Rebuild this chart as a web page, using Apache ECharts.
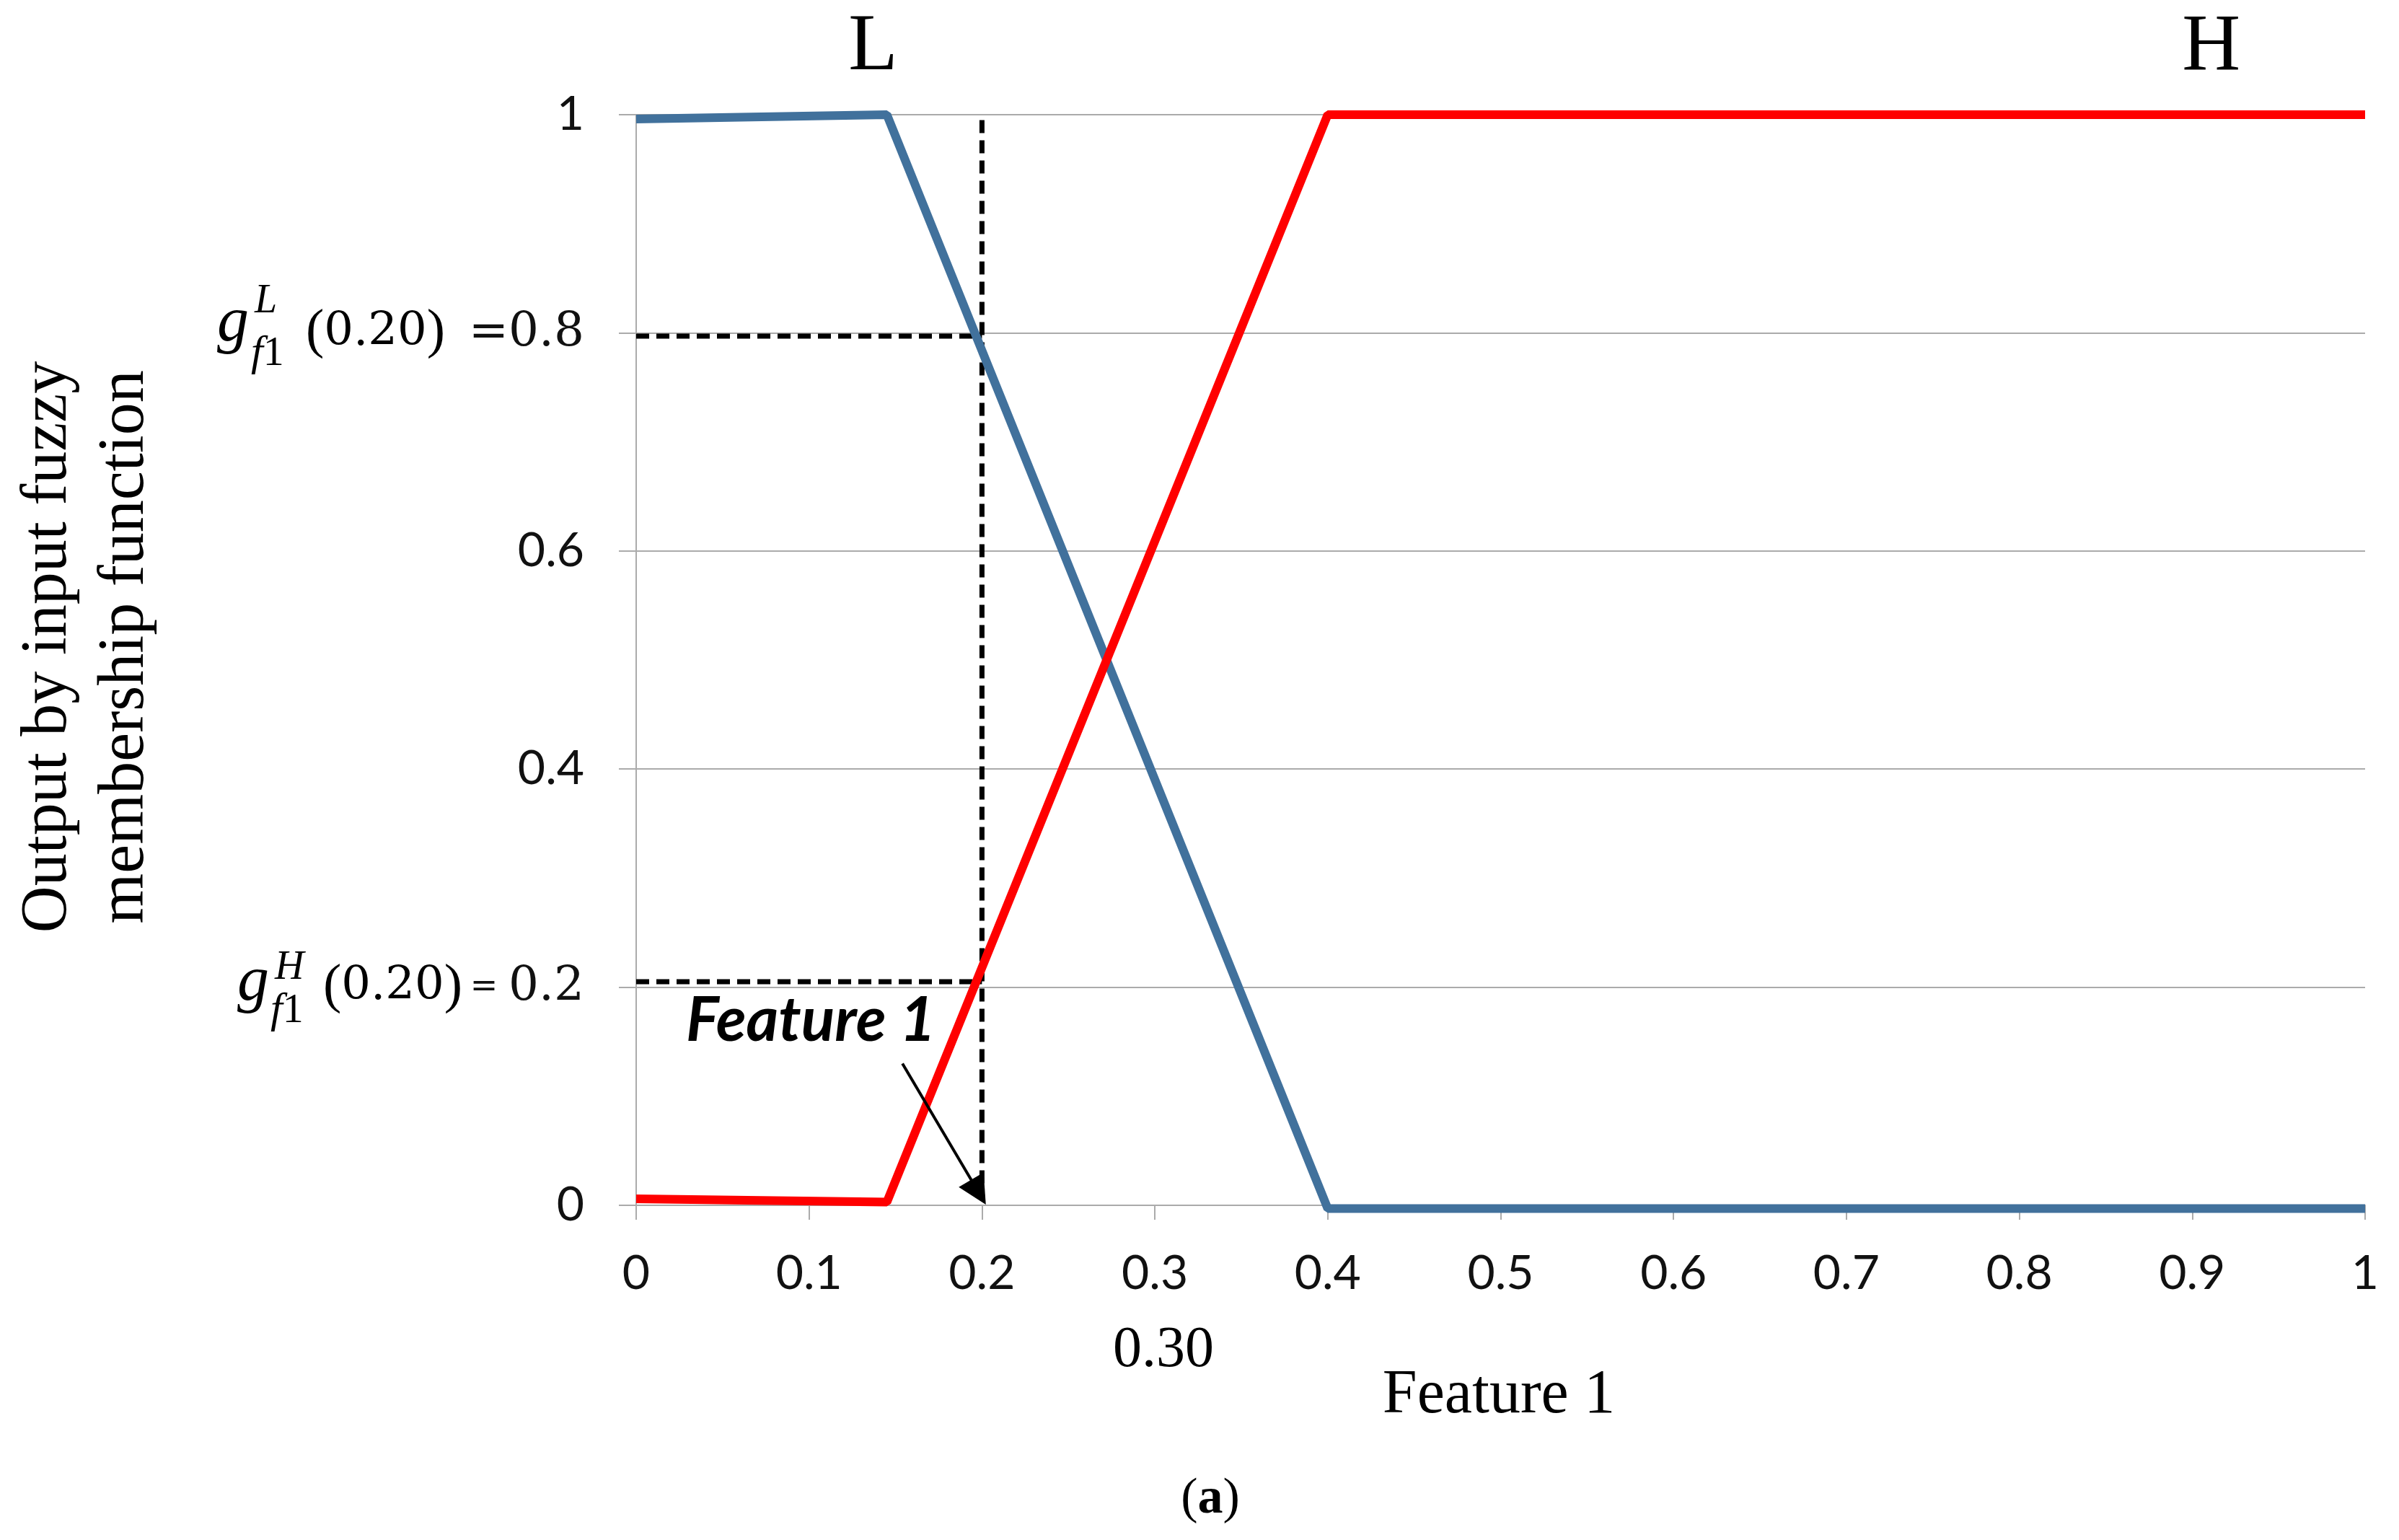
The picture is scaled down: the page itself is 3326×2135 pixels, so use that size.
<!DOCTYPE html>
<html>
<head>
<meta charset="utf-8">
<script src="https://cdn.jsdelivr.net/npm/echarts@6/dist/echarts.min.js"></script>
<style>
  html, body { margin: 0; padding: 0; background: #fff; }
  #chart { width: 3326px; height: 2135px; }
</style>
</head>
<body>
<div id="chart"></div>
<script>
// membership functions
const lowX = [0, 0.145, 0.4, 1];
const lowY = [0.996, 1, -0.003, -0.003];
const highX = [0, 0.145, 0.4, 1];
const highY = [0.006, 0.003, 1, 1];

// dashed read-out guides at feature value 0.2
const guideV = [[0.2, 0.995], [0.2, 0.006]];
const guideLow = [[0, 0.797], [0.2, 0.797]];
const guideHigh = [[0, 0.205], [0.2, 0.205]];
const arrowFrom = [0.154, 0.13];
const arrowTo = [0.198, 0.012];

const yTickText = { '0.8': '{m|=0.8}', '0.2': '{e|= }{m|0.2}' };

const NUM = 'Lato';
const SERIF = '"Liberation Serif", serif';
const MATH = '"DejaVu Serif", serif';
const GRAY = '#ababab';

const chart = echarts.init(document.getElementById('chart'));

const pairs = (xs, ys) => xs.map((x, i) => [x, ys[i]]);
const guide = (data) => ({
  type: 'line', data, symbol: 'none', silent: true, clip: false, z: 2,
  lineStyle: { color: '#000', width: 7, type: [18, 10] }
});

chart.setOption({
  animation: false,
  backgroundColor: '#fff',
  grid: { left: 882, right: 47, top: 159, bottom: 464, outerBoundsMode: 'none' },
  xAxis: {
    type: 'value', min: 0, max: 1, interval: 0.1,
    axisLine: { show: true, lineStyle: { color: GRAY, width: 2 } },
    axisTick: { show: true, length: 20, lineStyle: { color: GRAY, width: 2 } },
    splitLine: { show: false },
    axisLabel: {
      margin: 62, color: '#111', fontFamily: NUM, fontSize: 66,
      formatter: v => String(parseFloat(v.toFixed(1)))
    }
  },
  yAxis: {
    type: 'value', min: 0, max: 1, interval: 0.2,
    axisLine: { show: true, lineStyle: { color: GRAY, width: 2 } },
    axisTick: { show: true, length: 24, lineStyle: { color: GRAY, width: 2 } },
    splitLine: { show: true, lineStyle: { color: GRAY, width: 2 } },
    axisLabel: {
      margin: 72, color: '#111', fontFamily: NUM, fontSize: 66,
      formatter: v => {
        const k = String(parseFloat(v.toFixed(1)));
        return yTickText[k] || k;
      },
      rich: {
        m: { fontFamily: MATH, fontSize: 66, color: '#111' },
        e: { fontFamily: MATH, fontSize: 46, color: '#111' }
      }
    }
  },
  series: [
    guide(guideV),
    guide(guideLow),
    guide(guideHigh),
    {
      name: 'L', type: 'line', data: pairs(lowX, lowY), symbol: 'none', clip: false, z: 3,
      lineStyle: { color: '#41719C', width: 12 }
    },
    {
      name: 'H', type: 'line', data: pairs(highX, highY), symbol: 'none', clip: false, z: 4,
      lineStyle: { color: '#FF0000', width: 12 }
    },
    {
      type: 'lines', coordinateSystem: 'cartesian2d', z: 5, silent: true,
      symbol: ['none', 'triangle'], symbolSize: [34, 40],
      lineStyle: { color: '#000', width: 4, opacity: 1, curveness: 0 },
      data: [{ coords: [arrowFrom, arrowTo] }]
    }
  ]
});

const P = (x, y) => chart.convertToPixel({ gridIndex: 0 }, [x, y]);
const txt = (x, y, text, font, align) => ({
  type: 'text', x, y, z: 10, silent: true,
  style: { text, font, fill: '#000', textAlign: align || 'center', textVerticalAlign: 'middle' }
});

// g^X_{f1}(0.20) prefix of the 0.8 and 0.2 tick labels
function gLabel(yVal, sup, pos) {
  const y = P(0, yVal)[1];
  return [
    txt(pos.g, y + pos.gy, 'g', 'italic 88px ' + SERIF, 'left'),
    txt(pos.sup, y + pos.supY, sup, 'italic 56px ' + SERIF, 'left'),
    {
      type: 'text', x: pos.sub, y: y + pos.subY, z: 10, silent: true,
      style: {
        text: '{i|f}{r|1}', fill: '#000', textAlign: 'left', textVerticalAlign: 'middle',
        rich: {
          i: { fontFamily: SERIF, fontStyle: 'italic', fontSize: 60, fill: '#000' },
          r: { fontFamily: SERIF, fontSize: 58, fill: '#000' }
        }
      }
    },
    {
      type: 'text', x: pos.paren, y, z: 10, silent: true,
      style: {
        text: '{p|(}{d|0.20}{p|)}', fill: '#000', textAlign: 'left', textVerticalAlign: 'middle',
        rich: {
          p: { fontFamily: SERIF, fontSize: 76, fill: '#000' },
          d: { fontFamily: MATH, fontSize: 64, fill: '#000' }
        }
      }
    }
  ];
}

const pL = P(0.137, 1.061);
const pH = P(0.911, 1.061);
const pAnn = P(0.101, 0.169);
const p030 = P(0.305, 0);

chart.setOption({
  graphic: [
    txt(pL[0], pL[1], 'L', '112px ' + SERIF),
    txt(pH[0], pH[1], 'H', '112px ' + SERIF),
    txt(pAnn[0], pAnn[1], 'Feature 1', 'italic bold 86px ' + NUM),
    txt(p030[0], 1873, '0.30', '80px ' + SERIF),
    txt(2078, 1935, 'Feature 1', '86px ' + SERIF),
    {
      type: 'text', x: 1678, y: 2079, z: 10, silent: true,
      style: {
        text: '{p|(}{b|a}{p|)}', fill: '#000', textAlign: 'center', textVerticalAlign: 'middle',
        rich: {
          p: { fontFamily: SERIF, fontSize: 70, fill: '#000' },
          b: { fontFamily: SERIF, fontSize: 70, fontWeight: 'bold', fill: '#000' }
        }
      }
    },
    {
      type: 'text', x: 121, y: 897, rotation: Math.PI / 2, z: 10, silent: true,
      style: {
        text: 'Output by input fuzzy\nmembership function', font: '90px ' + SERIF,
        lineHeight: 107, fill: '#000', textAlign: 'center', textVerticalAlign: 'middle'
      }
    },
    ...gLabel(0.8, 'L', { g: 301, gy: -13, sup: 353, supY: -43, sub: 348, subY: 29, paren: 424 }),
    ...gLabel(0.2, 'H', { g: 329, gy: -6, sup: 381, supY: -26, sub: 375, subY: 33, paren: 448 })
  ]
});
</script>
</body>
</html>
